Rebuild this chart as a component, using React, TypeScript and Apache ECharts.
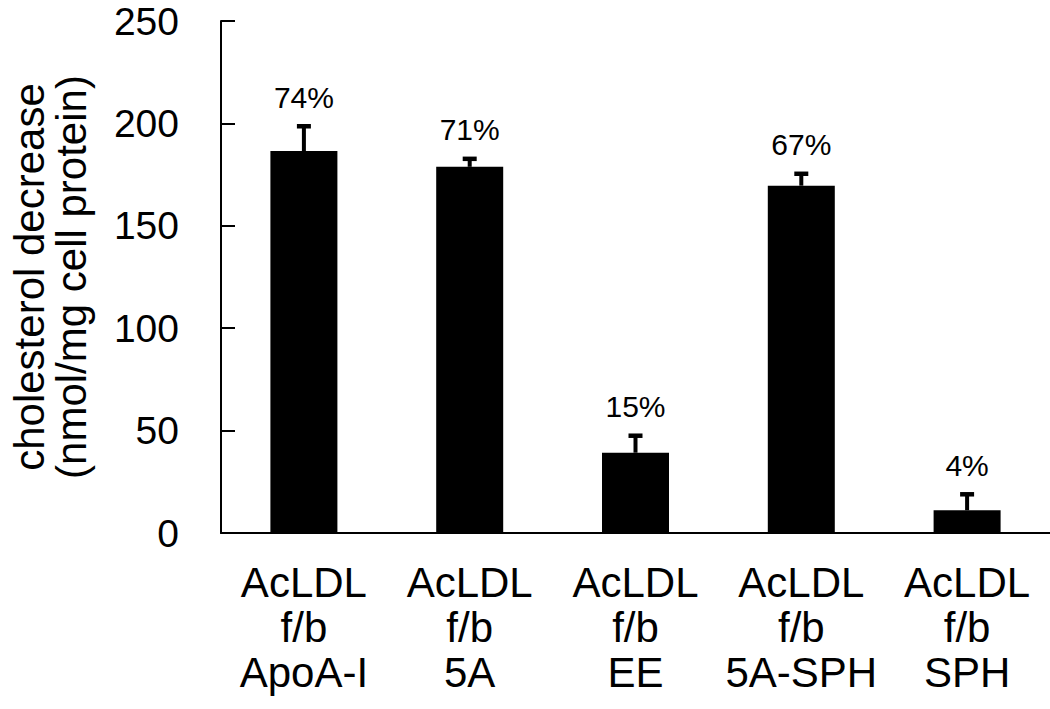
import React, { useEffect, useRef } from "react";
import * as echarts from "echarts";

const categories = [
  "AcLDL\nf/b\nApoA-I",
  "AcLDL\nf/b\n5A",
  "AcLDL\nf/b\nEE",
  "AcLDL\nf/b\n5A-SPH",
  "AcLDL\nf/b\nSPH",
];
const values = [186.5, 178.8, 39.2, 169.6, 11.1];
const errorTops = [198.6, 182.7, 47.5, 175.4, 18.9];
const percentLabels = ["74%", "71%", "15%", "67%", "4%"];
const yTicks = { min: 0, max: 250, interval: 50 };

const FONT = '"Liberation Sans", Arial, Helvetica, sans-serif';

export default function App() {
  const ref = useRef<HTMLDivElement>(null);
  useEffect(() => {
    if (!ref.current) return;
    const chart = echarts.init(ref.current, null, { renderer: "svg" });
    const errData = values.map((v, i) => [i, v, errorTops[i]]);
    chart.setOption({
      animation: false,
      backgroundColor: "#fff",
      textStyle: { fontFamily: FONT, color: "#000" },
      grid: { left: 212, right: 0, top: 21, bottom: 176, containLabel: false },
      xAxis: {
        type: "category",
        data: categories,
        axisLine: { show: true, lineStyle: { color: "#000", width: 2 } },
        axisTick: { show: false },
        axisLabel: {
          interval: 0,
          color: "#000",
          fontSize: 42,
          lineHeight: 45,
          margin: 27,
          fontFamily: FONT,
        },
      },
      yAxis: {
        type: "value",
        min: yTicks.min,
        max: yTicks.max,
        interval: yTicks.interval,
        name: "cholesterol decrease\n(nmol/mg cell protein)",
        nameLocation: "middle",
        nameRotate: 90,
        nameGap: 129,
        nameTextStyle: { color: "#000", fontSize: 42, lineHeight: 42, fontFamily: FONT },
        axisLine: { show: true, lineStyle: { color: "#000", width: 2 } },
        axisTick: { show: true, inside: true, length: 14, lineStyle: { color: "#000", width: 2 } },
        splitLine: { show: false },
        axisLabel: { color: "#000", fontSize: 39, lineHeight: 32, margin: 42, fontFamily: FONT },
      },
      series: [
        {
          type: "bar",
          data: values,
          barWidth: 67,
          itemStyle: { color: "#000" },
          z: 2,
        },
        {
          type: "custom",
          data: errData,
          encode: { x: 0, y: 2 },
          z: 3,
          renderItem: (params: any, api: any) => {
            const i = api.value(0);
            const base = api.coord([i, api.value(1)]);
            const tp = api.coord([i, api.value(2)]);
            const half = 7;
            return {
              type: "group",
              children: [
                {
                  type: "line",
                  shape: { x1: base[0], y1: base[1], x2: tp[0], y2: tp[1] },
                  style: { stroke: "#000", lineWidth: 4 },
                },
                {
                  type: "line",
                  shape: { x1: tp[0] - half, y1: tp[1], x2: tp[0] + half, y2: tp[1] },
                  style: { stroke: "#000", lineWidth: 4.5 },
                },
                {
                  type: "text",
                  x: tp[0],
                  y: tp[1] - 14,
                  style: {
                    text: percentLabels[params.dataIndex],
                    fill: "#000",
                    font: `30px ${FONT}`,
                    textAlign: "center",
                    textVerticalAlign: "bottom",
                  },
                },
              ],
            };
          },
        },
      ],
    });
    return () => chart.dispose();
  }, []);
  return (
    <div
      ref={ref}
      style={{ position: "fixed", left: 0, top: 0, width: 1050, height: 709, background: "#fff" }}
    />
  );
}
